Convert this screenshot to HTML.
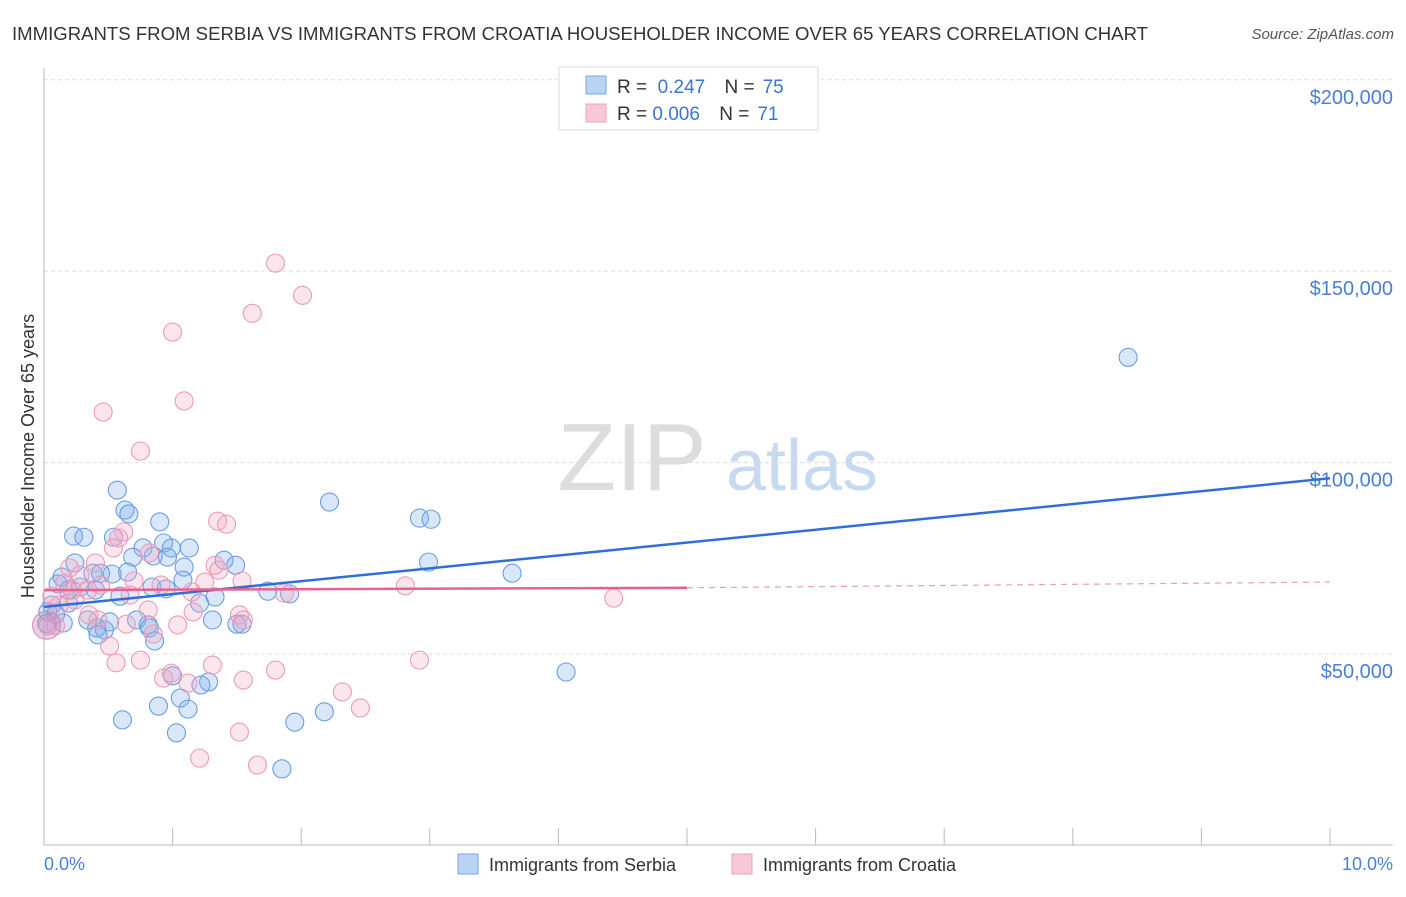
<!DOCTYPE html>
<html><head><meta charset="utf-8"><style>
body{margin:0;background:#fff;font-family:"Liberation Sans",sans-serif;}
svg text{font-family:"Liberation Sans",sans-serif;}
</style></head><body>
<svg id="chart" width="1406" height="892" xmlns="http://www.w3.org/2000/svg">
<text x="12" y="40" font-size="18" fill="#333" textLength="1136" lengthAdjust="spacingAndGlyphs">IMMIGRANTS FROM SERBIA VS IMMIGRANTS FROM CROATIA HOUSEHOLDER INCOME OVER 65 YEARS CORRELATION CHART</text>
<text x="1394" y="39" font-size="15" fill="#555" font-style="italic" text-anchor="end">Source: ZipAtlas.com</text>
<g>
<text x="632" y="490" font-size="96" fill="#ddd" font-family="Liberation Serif" text-anchor="middle">ZIP</text>
<text x="802" y="490" font-size="72" fill="#c8daf0" text-anchor="middle">atlas</text>
</g>
<g id="grid"></g>
<line x1="44" y1="68" x2="44" y2="845" stroke="#bbb"/>
<line x1="44" y1="845" x2="1393" y2="845" stroke="#bbb"/>
<g id="xticks"></g>
<text transform="translate(34,456) rotate(-90)" font-size="18" fill="#333" text-anchor="middle">Householder Income Over 65 years</text>
<text x="44" y="870" font-size="18" fill="#4a7fd6">0.0%</text>
<text x="1393" y="870" font-size="18" fill="#4a7fd6" text-anchor="end">10.0%</text>
<g id="points"></g>
<g id="lines"></g>
<g>
<rect x="559" y="67" width="259" height="63" fill="#fff" stroke="#ddd"/>
<rect x="586" y="76" width="20" height="18" fill="#b9d3f5" stroke="#7aa7e0"/>
<rect x="586" y="104" width="20" height="18" fill="#f9c8d6" stroke="#eea0b8"/>
<text x="617" y="93" font-size="19" fill="#333">R = <tspan fill="#3a76d0">&#160;0.247</tspan>   <tspan dx="14">N =</tspan><tspan fill="#3a76d0" dx="8">75</tspan></text>
<text x="617" y="120" font-size="19" fill="#333">R = <tspan fill="#3a76d0">0.006</tspan>   <tspan dx="14">N =</tspan><tspan fill="#3a76d0" dx="8">71</tspan></text>
</g>
<g>
<rect x="458" y="854" width="20" height="20" fill="#b9d3f5" stroke="#7aa7e0"/>
<text x="489" y="871" font-size="18" fill="#333">Immigrants from Serbia</text>
<rect x="732" y="854" width="20" height="20" fill="#f9c8d6" stroke="#eea0b8"/>
<text x="763" y="871" font-size="18" fill="#333">Immigrants from Croatia</text>
</g>
</svg>
<script>
const yTicks=[50000,100000,150000,200000];
const yTickLabels=["$50,000","$100,000","$150,000","$200,000"];
const serbiaX=[8.43,2.22,2.92,3.01,2.99,3.64,4.06,0.57,0.63,0.66,0.90,0.23,0.31,0.54,0.77,0.93,0.99,1.13,0.69,0.85,0.96,1.40,1.49,1.09,1.08,0.24,0.38,0.53,0.65,0.14,0.44,1.74,1.91,0.84,0.95,0.59,0.40,0.11,1.31,1.50,1.54,0.51,0.72,0.81,0.34,0.41,0.47,0.82,0.86,0.42,0.06,0.09,0.15,0.03,0.19,1.00,1.28,1.22,0.89,1.06,1.12,0.61,1.03,1.95,2.18,1.85,0.19,0.28,1.21,1.33,0.02];
const serbiaY=[127.5,89.7,85.5,85.2,74.0,71.1,45.3,92.8,87.6,86.6,84.5,80.8,80.5,80.5,77.7,79.0,77.7,77.7,75.3,75.6,75.3,74.5,73.2,72.7,69.3,73.8,71.1,70.9,71.4,70.1,71.1,66.4,65.7,67.5,67.0,65.1,66.7,68.3,58.9,57.8,57.8,58.4,58.9,57.6,58.9,56.8,56.3,56.8,53.4,55.0,62.8,60.4,58.1,61.0,63.3,44.3,42.7,41.9,36.4,38.5,35.6,32.8,29.4,32.2,34.9,20.0,66.7,67.5,63.3,64.9,58.0];
const croatiaX=[1.80,2.01,1.62,1.00,1.09,0.46,0.75,1.35,1.42,0.62,0.58,0.54,0.82,0.40,0.20,1.33,1.36,0.91,1.25,1.54,2.81,4.43,0.70,0.28,0.16,0.44,0.67,1.15,1.87,0.81,1.16,1.52,1.55,0.64,1.04,0.35,0.42,0.12,0.24,0.06,0.51,0.85,0.56,0.75,0.99,1.31,1.80,2.92,0.93,1.12,1.55,2.32,2.46,1.52,1.21,1.66,0.22,0.34,0.09,0.03];
const croatiaY=[152.1,143.7,139.0,134.1,116.1,113.2,103.0,84.7,83.9,81.9,80.3,77.7,76.4,73.8,72.5,73.2,71.9,68.0,68.8,69.1,67.8,64.6,69.1,70.6,68.5,68.0,65.4,66.2,65.9,61.5,61.0,60.2,58.9,57.8,57.6,60.2,58.9,62.8,64.1,65.1,52.1,55.2,47.7,48.4,45.0,47.1,45.8,48.4,43.7,42.4,43.2,40.1,35.9,29.6,22.8,21.0,66.7,66.7,57.4,57.4];
const serbiaTrend=[[0,62.3],[10,95.9]];
const croatiaTrend=[[0,66.7],[5,67.3]];
const croatiaTrendExt=[[5,67.3],[10,68.8]];
const NS="http://www.w3.org/2000/svg";
function xs(p){return 44+p*128.6;}
function ys(v){return 654-(v-50000)*191.4/50000;}
function ysk(k){return ys(k*1000);}
function mk(t,a,parent){const e=document.createElementNS(NS,t);for(const k in a)e.setAttribute(k,a[k]);parent.appendChild(e);return e;}
const grid=document.getElementById('grid');
yTicks.forEach((v,i)=>{
 const l=mk('line',{x1:44,x2:1393,y1:ys(v),y2:ys(v),stroke:'#ddd','stroke-dasharray':'4 3'},grid);
 
 
 const t=mk('text',{x:1393,y:ys(v)+24,'font-size':20,fill:'#4a7fd6','text-anchor':'end'},grid);
 t.textContent=yTickLabels[i];
 
 
});
const xt=document.getElementById('xticks');
for(let i=1;i<=10;i++){
 const l=mk('line',{x1:xs(i),x2:xs(i),y1:828,y2:845,stroke:'#bbb'},xt);
 
 
}
const pts=document.getElementById('points');
serbiaX.forEach((x,i)=>{
 const c=mk('circle',{cx:xs(x),cy:ysk(serbiaY[i]),r:9,fill:'rgba(130,175,235,0.3)',stroke:'#6a9edf','stroke-width':1.1},pts);
 
 
});
croatiaX.forEach((x,i)=>{
 const c=mk('circle',{cx:xs(x),cy:ysk(croatiaY[i]),r:9,fill:'rgba(245,165,195,0.28)',stroke:'#ee9ab6','stroke-width':1.1},pts);
 
 
});
const big=mk('circle',{cx:xs(0.02),cy:ysk(57.5),r:14,fill:'rgba(200,140,190,0.4)',stroke:'#d08ab0'},pts);


const ln=document.getElementById('lines');
function line(d,st,dash,name,w){const l=mk('line',{x1:xs(d[0][0]),y1:ysk(d[0][1]),x2:xs(d[1][0]),y2:ysk(d[1][1]),stroke:st,'stroke-width':w},ln);if(dash)l.setAttribute('stroke-dasharray',dash);
 
 }
line(serbiaTrend,'#2f6fd6',null,'serbia-trendline',2.5);
line(croatiaTrend,'#e8628f',null,'croatia-trendline',2.5);
line(croatiaTrendExt,'#eaa0b8','6 5','croatia-trendline-extension',1.2);
</script>
</body></html>
